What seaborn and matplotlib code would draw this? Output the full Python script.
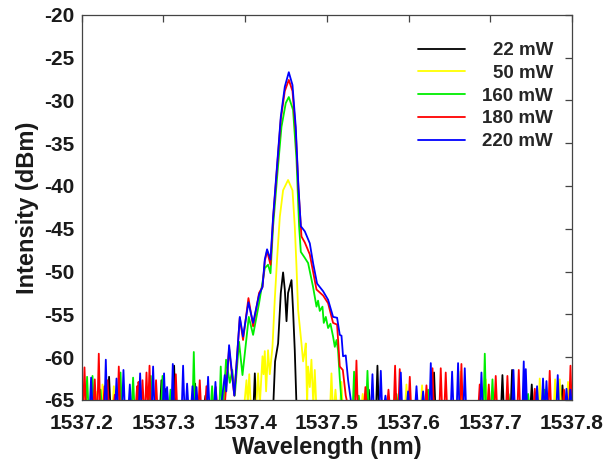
import numpy as np
import pandas as pd
import matplotlib
matplotlib.use("Agg")
import matplotlib.pyplot as plt
from matplotlib.ticker import FormatStrFormatter
import seaborn as sns

# wavelengths are offsets from 1537.2 nm, intensities in dBm
BASE = 1537.2
FLOOR = -65.6

powers = ["22 mW", "50 mW", "160 mW", "180 mW", "220 mW"]
line_colors = ["#000000", "#ffff00", "#00ee00", "#ff0000", "#0000ff"]

x_ticks = [1537.2, 1537.3, 1537.4, 1537.5, 1537.6, 1537.7, 1537.8]
y_ticks = [-65, -60, -55, -50, -45, -40, -35, -30, -25, -20]

# central lasing peak of each trace
peak_wl_22 = [0.2344, 0.2366, 0.2403, 0.2436, 0.2464, 0.2485, 0.2506, 0.2525, 0.2567, 0.2586, 0.2607, 0.2628]
peak_db_22 = [-65.6, -60.5, -58.4, -52.5, -50.1, -52.1, -55.8, -52.5, -51.0, -54.5, -59.2, -65.6]

peak_wl_50 = [0.1989, 0.2016, 0.2032, 0.2050, 0.2069, 0.2136, 0.2158, 0.2179, 0.2212, 0.2225, 0.2240, 0.2256,
              0.2280, 0.2301, 0.2334, 0.2362, 0.2390, 0.2424, 0.2464, 0.2525, 0.2579, 0.2607, 0.2628, 0.2648,
              0.2668, 0.2689, 0.2709, 0.2727, 0.2742, 0.2758, 0.2770, 0.2791, 0.2811, 0.2834, 0.2852, 0.2870]
peak_db_50 = [-65.6, -62.7, -65.6, -62.0, -65.6, -65.6, -61.9, -65.6, -59.9, -62.0, -59.3, -64.0,
              -59.2, -62.0, -58.8, -53.3, -48.6, -43.6, -40.5, -39.3, -40.5, -44.7, -49.4, -54.5,
              -56.4, -58.4, -60.5, -59.5, -58.4, -65.6, -61.1, -63.5, -60.3, -65.6, -61.5, -65.6]

peak_wl_160 = [0.1732, 0.1766, 0.1812, 0.1842, 0.1873, 0.1925, 0.1967, 0.2044, 0.2097, 0.2170, 0.2240, 0.2280,
               0.2310, 0.2342, 0.2395, 0.2444, 0.2497, 0.2534, 0.2586, 0.2628, 0.2660, 0.2681, 0.2730, 0.2770,
               0.2831, 0.2873, 0.2892, 0.2913, 0.2946, 0.2962, 0.2987, 0.3015, 0.3044, 0.3076, 0.3097, 0.3118,
               0.3137, 0.3158, 0.3182]
peak_db_160 = [-65.6, -60.3, -63.0, -61.5, -64.5, -58.2, -62.1, -55.3, -57.4, -53.7, -49.6, -49.2,
               -50.2, -44.7, -38.5, -33.1, -30.3, -29.6, -31.1, -36.9, -44.7, -47.7, -48.4, -49.0,
               -51.8, -54.1, -53.4, -54.6, -54.1, -56.0, -55.3, -56.6, -56.1, -57.6, -58.8, -58.0,
               -59.2, -62.5, -65.6]

peak_wl_180 = [0.1750, 0.1803, 0.1867, 0.1934, 0.1974, 0.2040, 0.2097, 0.2170, 0.2212, 0.2240, 0.2268, 0.2310,
               0.2342, 0.2390, 0.2436, 0.2485, 0.2534, 0.2579, 0.2619, 0.2652, 0.2689, 0.2730, 0.2791, 0.2831,
               0.2873, 0.2954, 0.3015, 0.3076, 0.3125, 0.3158, 0.3195, 0.3231, 0.3256]
peak_db_180 = [-65.6, -59.0, -64.5, -55.4, -58.0, -53.1, -56.4, -52.5, -51.8, -48.8, -47.6, -49.2,
               -43.8, -37.8, -32.2, -28.9, -27.6, -28.9, -33.6, -40.3, -45.9, -46.6, -48.0, -50.0,
               -52.1, -52.8, -53.7, -56.0, -56.2, -61.1, -61.5, -64.5, -65.6]

peak_wl_220 = [0.1707, 0.1750, 0.1769, 0.1803, 0.1867, 0.1934, 0.1974, 0.2040, 0.2097, 0.2170, 0.2212, 0.2240,
               0.2268, 0.2310, 0.2342, 0.2390, 0.2436, 0.2485, 0.2534, 0.2579, 0.2619, 0.2652, 0.2681, 0.2730,
               0.2791, 0.2831, 0.2880, 0.2954, 0.3015, 0.3076, 0.3125, 0.3158, 0.3179, 0.3198, 0.3231, 0.3260,
               0.3301]
peak_db_220 = [-65.6, -62.1, -64.0, -58.6, -64.5, -55.3, -57.6, -53.6, -56.0, -52.7, -51.8, -48.6,
               -47.4, -48.6, -43.6, -37.7, -31.9, -28.4, -26.7, -28.2, -33.1, -40.1, -44.7, -45.3,
               -46.7, -49.0, -51.4, -52.3, -53.3, -55.3, -55.4, -57.4, -57.5, -59.9, -59.8, -62.7,
               -65.6]

# single-sample noise spikes sticking out of the noise floor
spike_wl_22 = [0.0334, 0.0975, 0.1032, 0.1130, 0.1387, 0.1514, 0.1636, 0.2118,
               0.3513, 0.3619, 0.4312, 0.5149, 0.5267, 0.5508, 0.5884]
spike_db_22 = [-62.3, -62.7, -63.7, -61.0, -63.1, -64.5, -64.5, -61.9,
               -63.8, -61.0, -61.8, -62.1, -61.5, -63.2, -63.3]

spike_wl_50 = [0.0171, 0.0253, 0.0392, 0.3056, 0.3105, 0.3178, 0.3439, 0.3974, 0.4165, 0.4635,
               0.4945, 0.5606, 0.5794, 0.5851, 0.5952]
spike_db_50 = [-64.0, -63.2, -63.4, -61.9, -63.8, -62.9, -64.3, -63.2, -63.3, -61.7,
               -62.6, -62.5, -62.6, -62.6, -62.9]

spike_wl_160 = [0.0065, 0.0131, 0.0229, 0.0474, 0.0628, 0.0845, 0.0988, 0.1086, 0.1371, 0.1595, 0.1701,
                0.3333, 0.3390, 0.3497, 0.3852, 0.4239, 0.4933, 0.5027, 0.5223, 0.5463, 0.5667]
spike_db_160 = [-62.3, -62.2, -63.8, -61.8, -62.4, -62.2, -62.2, -63.8, -59.4, -63.4, -61.1,
                -61.7, -64.5, -61.6, -64.3, -63.8, -59.6, -62.6, -64.3, -64.3, -63.8]

spike_wl_180 = [0.0033, 0.0159, 0.0208, 0.0278, 0.0315, 0.0404, 0.0453, 0.0677, 0.0694, 0.0743, 0.0792,
                0.0829, 0.0909, 0.1151, 0.1444, 0.1526, 0.1640,
                0.3362, 0.3472, 0.3754, 0.3835, 0.3892, 0.4015, 0.4219, 0.4293, 0.4394, 0.4455, 0.4647,
                0.4871, 0.4982, 0.5067, 0.5210, 0.5349, 0.5545, 0.5728, 0.5903, 0.5982]
spike_db_180 = [-61.2, -62.6, -59.6, -63.4, -62.7, -64.4, -61.1, -63.4, -62.9, -62.7, -61.8,
                -61.0, -62.7, -62.0, -62.7, -63.4, -63.5,
                -60.4, -63.5, -63.8, -61.0, -61.4, -62.3, -63.3, -61.3, -61.3, -61.8, -60.8,
                -63.2, -63.2, -62.2, -62.2, -61.5, -63.7, -61.6, -63.8, -61.0]

spike_wl_220 = [0.0114, 0.0294, 0.0425, 0.0510, 0.0588, 0.0714, 0.0873, 0.1007, 0.1044, 0.1114, 0.1240,
                0.1289, 0.1355, 0.1404, 0.1546, 0.1636,
                0.3558, 0.3660, 0.3717, 0.3905, 0.3994, 0.4097, 0.4178, 0.4272, 0.4533, 0.4606, 0.4688,
                0.4892, 0.5284, 0.5410, 0.5435, 0.5573, 0.5646, 0.5688, 0.5826, 0.5933, 0.5982]
spike_db_220 = [-62.4, -60.3, -62.5, -61.5, -63.2, -61.9, -61.1, -61.9, -63.5, -60.8, -61.0,
                -63.1, -63.4, -63.5, -62.3, -62.9,
                -62.0, -61.6, -64.5, -61.8, -64.0, -63.4, -64.0, -60.7, -61.7, -60.7, -61.3,
                -61.8, -61.5, -60.5, -61.4, -63.4, -62.5, -62.8, -62.1, -63.7, -63.8]


def build_trace(label, peak_wl, peak_db, spike_wl, spike_db, half=0.0015):
    wl = list(peak_wl) + [0.0, 0.6]
    db = list(peak_db) + [FLOOR, FLOOR]
    for w, d in zip(spike_wl, spike_db):
        wl += [w - half, w, w + half]
        db += [FLOOR, d, FLOOR]
    return pd.DataFrame({"wavelength": BASE + np.array(wl), "intensity": db, "power": label})


df = pd.concat([
    build_trace("22 mW", peak_wl_22, peak_db_22, spike_wl_22, spike_db_22),
    build_trace("50 mW", peak_wl_50, peak_db_50, spike_wl_50, spike_db_50),
    build_trace("160 mW", peak_wl_160, peak_db_160, spike_wl_160, spike_db_160),
    build_trace("180 mW", peak_wl_180, peak_db_180, spike_wl_180, spike_db_180),
    build_trace("220 mW", peak_wl_220, peak_db_220, spike_wl_220, spike_db_220),
], ignore_index=True)

sns.set_style("white")
plt.rcParams["font.family"] = ["Liberation Sans", "DejaVu Sans"]
plt.rcParams["font.weight"] = "bold"
plt.rcParams["axes.unicode_minus"] = False

fig = plt.figure(figsize=(6.15, 4.65), dpi=100)
ax = fig.add_axes([0.133, 0.140, 0.797, 0.828])

sns.lineplot(data=df, x="wavelength", y="intensity", hue="power", hue_order=powers,
             palette=dict(zip(powers, line_colors)), estimator=None, sort=True,
             linewidth=1.3, ax=ax)

ax.set_xlim(1537.2, 1537.8)
ax.set_ylim(-65, -20)
ax.set_xticks(x_ticks)
ax.set_yticks(y_ticks)
ax.xaxis.set_major_formatter(FormatStrFormatter("%.1f"))
ax.tick_params(direction="in", top=True, right=True, length=5, width=0.9,
               color="#444444", labelsize=15, labelcolor="#1a1a1a")
ax.tick_params(axis="x", pad=10)
ax.tick_params(axis="y", pad=5)
for s in ax.spines.values():
    s.set_color("#444444")
    s.set_linewidth(0.9)

ax.set_xlabel("Wavelength (nm)", fontsize=17, fontweight="bold", color="#1a1a1a", labelpad=2)
ax.set_ylabel("Intensity (dBm)", fontsize=17, fontweight="bold", color="#1a1a1a", labelpad=4)

handles, labels = ax.get_legend_handles_labels()
leg = ax.legend(handles, labels, frameon=False, loc="upper right",
                bbox_to_anchor=(553 / 615, 1 - 42 / 465), bbox_transform=fig.transFigure,
                borderpad=0, borderaxespad=0, handlelength=2.5, handletextpad=0.9,
                labelspacing=0.3, prop={"size": 13.5, "weight": "bold"})
for h in leg.get_lines():
    h.set_linewidth(1.3)

# right-align the legend labels inside their column
fig.canvas.draw()
renderer = fig.canvas.get_renderer()
widths = [t.get_window_extent(renderer).width for t in leg.get_texts()]
shift = max(widths)
for t, w in zip(leg.get_texts(), widths):
    t.set_ha("right")
    t.set_position((shift - w, 0))

fig.savefig("out.png", dpi=100)
